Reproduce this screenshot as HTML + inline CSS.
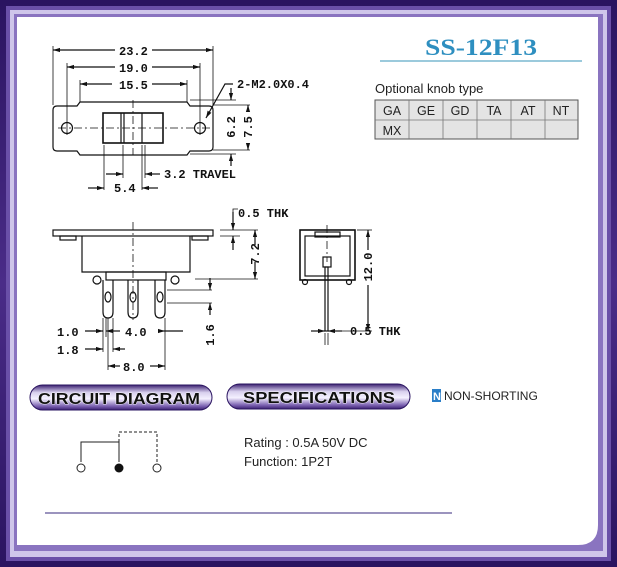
<!DOCTYPE html>
<html><head><meta charset="utf-8"><style>
html,body{margin:0;padding:0;}
body{width:617px;height:567px;overflow:hidden;background:#3a2070;}
svg{display:block}
.m{font-family:"Liberation Mono",monospace;font-size:12px;font-weight:bold;fill:#111}
.s{font-family:"Liberation Sans",sans-serif;fill:#222}
</style></head><body>
<svg width="617" height="567" viewBox="0 0 617 567" xmlns="http://www.w3.org/2000/svg">
<defs>
<linearGradient id="fr" x1="0" y1="0" x2="0" y2="1">
<stop offset="0" stop-color="#2a1460"/><stop offset="0.5" stop-color="#4a2c88"/><stop offset="1" stop-color="#2a1460"/>
</linearGradient>
<linearGradient id="pill" x1="0" y1="0" x2="0" y2="1">
<stop offset="0" stop-color="#3a2070"/><stop offset="0.3" stop-color="#d8d0ee"/><stop offset="0.55" stop-color="#f4f0ff"/><stop offset="0.85" stop-color="#7a60b0"/><stop offset="1" stop-color="#3a2070"/>
</linearGradient>
<marker id="a" viewBox="0 0 10 10" refX="10" refY="5" markerWidth="6" markerHeight="6" orient="auto-start-reverse"><path d="M0,2 L10,5 L0,8z" fill="#111"/></marker>
</defs>
<rect width="617" height="567" fill="url(#fr)"/>
<rect x="6" y="6" width="605" height="555" fill="#6a50a8"/>
<rect x="10" y="10" width="597" height="547" fill="#cfc6ea"/>
<rect x="14" y="14" width="589" height="537" fill="#8a74c0"/>
<path d="M17,17 H598 V525 Q598,545 578,545 H17 Z" fill="#fff"/>

<g stroke="#111" fill="none" stroke-width="1.2">
<line x1="53" y1="46" x2="53" y2="105" stroke-width="0.8"/><line x1="213" y1="46" x2="213" y2="105" stroke-width="0.8"/>
<line x1="67" y1="63" x2="67" y2="135" stroke-width="0.8"/><line x1="200" y1="63" x2="200" y2="135" stroke-width="0.8"/>
<line x1="80" y1="80" x2="80" y2="102" stroke-width="0.8"/><line x1="187" y1="80" x2="187" y2="102" stroke-width="0.8"/>
<line x1="53" y1="50" x2="115" y2="50" marker-start="url(#a)"/><line x1="152" y1="50" x2="213" y2="50" marker-end="url(#a)"/>
<line x1="67" y1="67" x2="115" y2="67" marker-start="url(#a)"/><line x1="152" y1="67" x2="200" y2="67" marker-end="url(#a)"/>
<line x1="80" y1="84" x2="112" y2="84" marker-start="url(#a)"/><line x1="152" y1="84" x2="187" y2="84" marker-end="url(#a)"/>
<path d="M80,102 H187 L190,106 H209 Q213,106 213,110 V147 Q213,151 209,151 H190 L187,155 H80 L77,151 H57 Q53,151 53,147 V110 Q53,106 57,106 H77 Z"/>
<circle cx="67" cy="128" r="5.5"/><circle cx="200" cy="128" r="5.5"/>
<rect x="103" y="113" width="60" height="30" stroke-width="1.6"/>
<line x1="121" y1="113" x2="121" y2="143"/><line x1="124" y1="113" x2="124" y2="143"/><line x1="142" y1="113" x2="142" y2="143"/>
<line x1="58" y1="128" x2="210" y2="128" stroke-dasharray="8,3,2,3" stroke-width="0.8"/>
<line x1="133" y1="100" x2="133" y2="155" stroke-dasharray="8,3,2,3" stroke-width="0.8"/>
<line x1="104" y1="145" x2="104" y2="190" stroke-width="0.8"/><line x1="123" y1="145" x2="123" y2="178" stroke-width="0.8"/>
<line x1="142" y1="145" x2="142" y2="190" stroke-width="0.8"/><line x1="145" y1="145" x2="145" y2="178" stroke-width="0.8"/>
<line x1="106" y1="174" x2="123" y2="174" marker-end="url(#a)"/><line x1="160" y1="174" x2="145" y2="174" marker-end="url(#a)"/>
<line x1="88" y1="188" x2="104" y2="188" marker-end="url(#a)"/><line x1="158" y1="188" x2="142" y2="188" marker-end="url(#a)"/>
<path d="M206,118 L225,84 H233" marker-start="url(#a)"/>
<line x1="190" y1="100" x2="236" y2="100" stroke-width="0.8"/><line x1="190" y1="154" x2="236" y2="154" stroke-width="0.8"/>
<line x1="213" y1="105" x2="250" y2="105" stroke-width="0.8"/><line x1="213" y1="150" x2="250" y2="150" stroke-width="0.8"/>
<line x1="231" y1="88" x2="231" y2="100" marker-end="url(#a)"/><line x1="231" y1="166" x2="231" y2="154" marker-end="url(#a)"/>
<line x1="248" y1="110" x2="248" y2="105" marker-end="url(#a)"/><line x1="248" y1="145" x2="248" y2="150" marker-end="url(#a)"/>

<rect x="53" y="230" width="160" height="6"/>
<rect x="60" y="236" width="16" height="4"/><rect x="192" y="236" width="16" height="4"/>
<path d="M82,236 V272 H190 V236"/>
<rect x="106" y="272" width="60" height="8"/>
<circle cx="97" cy="280" r="4"/><circle cx="175" cy="280" r="4"/>
<path d="M103,280 V312 Q103,318 108,318 Q113,318 113,312 V280"/>
<path d="M128,280 V312 Q128,318 133,318 Q138,318 138,312 V280"/>
<path d="M155,280 V312 Q155,318 160,318 Q165,318 165,312 V280"/>
<ellipse cx="108" cy="297" rx="3" ry="5"/><ellipse cx="133" cy="297" rx="3" ry="5"/><ellipse cx="160" cy="297" rx="3" ry="5"/>
<line x1="133" y1="222" x2="133" y2="320" stroke-dasharray="8,3,2,3" stroke-width="0.8"/>
<line x1="220" y1="230" x2="258" y2="230" stroke-width="0.8"/><line x1="220" y1="236" x2="240" y2="236" stroke-width="0.8"/>
<line x1="233" y1="212" x2="233" y2="230" marker-end="url(#a)"/><line x1="233" y1="250" x2="233" y2="236" marker-end="url(#a)"/>
<path d="M233,212 V209 H238" stroke-width="0.8"/>
<line x1="255" y1="245" x2="255" y2="230" marker-end="url(#a)"/><line x1="255" y1="262" x2="255" y2="279" marker-end="url(#a)"/>
<line x1="195" y1="279" x2="258" y2="279" stroke-width="0.8"/>
<line x1="167" y1="290" x2="212" y2="290" stroke-width="0.8"/><line x1="167" y1="303" x2="212" y2="303" stroke-width="0.8"/>
<line x1="210" y1="278" x2="210" y2="290" marker-end="url(#a)"/><line x1="210" y1="315" x2="210" y2="303" marker-end="url(#a)"/>
<line x1="103" y1="318" x2="103" y2="352" stroke-width="0.8"/><line x1="106" y1="318" x2="106" y2="337" stroke-width="0.8"/>
<line x1="113" y1="318" x2="113" y2="352" stroke-width="0.8"/><line x1="108" y1="318" x2="108" y2="370" stroke-width="0.8"/>
<line x1="165" y1="318" x2="165" y2="370" stroke-width="0.8"/>
<line x1="85" y1="331" x2="103" y2="331" marker-end="url(#a)"/><line x1="120" y1="331" x2="106" y2="331" marker-end="url(#a)"/>
<line x1="160" y1="331" x2="165" y2="331" marker-end="url(#a)"/><line x1="183" y1="331" x2="165" y2="331"/>
<line x1="85" y1="349" x2="103" y2="349" marker-end="url(#a)"/><line x1="125" y1="349" x2="113" y2="349" marker-end="url(#a)"/>
<line x1="120" y1="366" x2="108" y2="366" marker-end="url(#a)"/><line x1="150" y1="366" x2="165" y2="366" marker-end="url(#a)"/>

<rect x="300" y="230" width="55" height="50" stroke-width="1.6"/>
<rect x="305" y="236" width="45" height="40"/>
<rect x="315" y="232" width="25" height="5"/>
<rect x="323" y="257" width="8" height="10"/>
<line x1="327" y1="225" x2="327" y2="262" stroke-dasharray="8,3,2,3" stroke-width="0.8"/>
<circle cx="305" cy="282" r="2.5"/><circle cx="349" cy="282" r="2.5"/>
<rect x="325" y="267" width="3" height="64"/>
<line x1="357" y1="230" x2="372" y2="230" stroke-width="0.8"/><line x1="331" y1="331" x2="372" y2="331" stroke-width="0.8"/>
<line x1="368" y1="250" x2="368" y2="230" marker-end="url(#a)"/><line x1="368" y1="285" x2="368" y2="331" marker-end="url(#a)"/>
<line x1="325" y1="333" x2="325" y2="345" stroke-width="0.8"/><line x1="328" y1="333" x2="328" y2="345" stroke-width="0.8"/>
<line x1="311" y1="331" x2="325" y2="331" marker-end="url(#a)"/>
<line x1="342" y1="331" x2="328" y2="331" marker-end="url(#a)"/>
</g>

<g class="m">
<text x="119" y="55">23.2</text><text x="119" y="72">19.0</text><text x="119" y="89">15.5</text>
<text x="237" y="88">2-M2.0X0.4</text>
<text x="164" y="178">3.2 TRAVEL</text>
<text x="114" y="192">5.4</text>
<text x="238" y="217">0.5 THK</text>
<text x="125" y="336">4.0</text>
<text x="57" y="336">1.0</text><text x="57" y="354">1.8</text>
<text x="123" y="371">8.0</text>
<text x="350" y="335">0.5 THK</text>
<text transform="translate(235,127) rotate(-90)" text-anchor="middle">6.2</text>
<text transform="translate(252,127) rotate(-90)" text-anchor="middle">7.5</text>
<text transform="translate(259,254) rotate(-90)" text-anchor="middle">7.2</text>
<text transform="translate(214,335) rotate(-90)" text-anchor="middle">1.6</text>
<text transform="translate(372,267) rotate(-90)" text-anchor="middle">12.0</text>
</g>

<text x="425" y="55" textLength="112" lengthAdjust="spacingAndGlyphs" font-family="Liberation Serif,serif" font-weight="bold" font-size="23" fill="#2e8fc0">SS-12F13</text>
<line x1="380" y1="61" x2="582" y2="61" stroke="#7ab8d0" stroke-width="1.5"/>
<text x="375" y="93" class="s" font-size="13">Optional knob type</text>
<rect x="375" y="100" width="203" height="39" fill="#e4e4e4" stroke="#555"/>
<g stroke="#777" stroke-width="0.8">
<line x1="375" y1="120" x2="578" y2="120"/>
<line x1="409" y1="100" x2="409" y2="139"/><line x1="443" y1="100" x2="443" y2="139"/><line x1="477" y1="100" x2="477" y2="139"/>
<line x1="511" y1="100" x2="511" y2="139"/><line x1="545" y1="100" x2="545" y2="139"/>
</g>
<g class="s" font-size="12.5" text-anchor="middle">
<text x="392" y="115">GA</text><text x="426" y="115">GE</text><text x="460" y="115">GD</text><text x="494" y="115">TA</text><text x="528" y="115">AT</text><text x="561" y="115">NT</text>
<text x="392" y="135">MX</text>
</g>

<rect x="30" y="385" width="182" height="25" rx="12.5" fill="url(#pill)" stroke="#2a1460"/>
<rect x="227" y="384" width="183" height="25" rx="12.5" fill="url(#pill)" stroke="#2a1460"/>
<g font-family="Liberation Sans,sans-serif" font-weight="bold" font-size="16" fill="#111" stroke="#fff" stroke-width="0.8" paint-order="stroke">
<text x="38" y="404" textLength="162" lengthAdjust="spacingAndGlyphs">CIRCUIT DIAGRAM</text>
<text x="243" y="403" textLength="152" lengthAdjust="spacingAndGlyphs">SPECIFICATIONS</text>
</g>
<rect x="432" y="389" width="9" height="13" fill="#2a7ec8"/>
<text x="433" y="400" font-family="Liberation Sans,sans-serif" font-size="11" font-weight="bold" fill="#fff">N</text>
<text x="444" y="400" class="s" font-size="12">NON-SHORTING</text>

<g stroke="#222" fill="none" stroke-width="1">
<path d="M81,462 V442 H119 V462" />
<path d="M119,442 V432 H157 V462" stroke-dasharray="3,2"/>
<circle cx="81" cy="468" r="4"/><circle cx="157" cy="468" r="4"/>
</g>
<circle cx="119" cy="468" r="4.5" fill="#111"/>
<text x="244" y="447" class="s" font-size="13">Rating : 0.5A 50V DC</text>
<text x="244" y="466" class="s" font-size="13">Function: 1P2T</text>
<line x1="45" y1="513" x2="452" y2="513" stroke="#7a70a8" stroke-width="1.5"/>
</svg>
</body></html>
